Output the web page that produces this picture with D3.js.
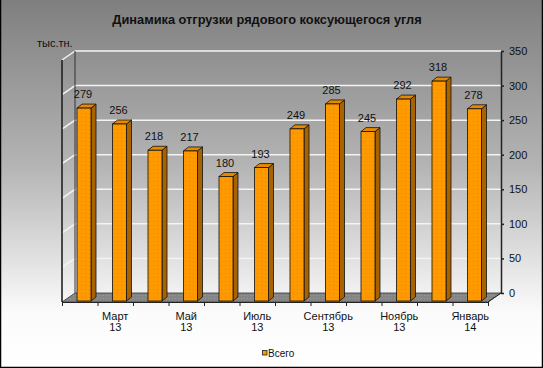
<!DOCTYPE html>
<html><head><meta charset="utf-8">
<script src="https://cdn.jsdelivr.net/npm/d3@7"></script>
<style>
html,body{margin:0;padding:0;background:#fff;}
svg{display:block;font-family:"Liberation Sans",Arial,sans-serif;}
</style></head>
<body>
<svg id="c" width="543" height="368"></svg>
<script>
const months = ["Февраль","Март","Апрель","Май","Июнь","Июль","Август","Сентябрь","Октябрь","Ноябрь","Декабрь","Январь"];
const years  = ["13","13","13","13","13","13","13","13","13","13","13","14"];
const values = [279,256,218,217,180,193,249,285,245,292,318,278];
const yTicks = [0,50,100,150,200,250,300,350];
const labelEvery = [false,true,false,true,false,true,false,true,false,true,false,true];
const seriesName = "Всего";
const titleText = "Динамика отгрузки рядового коксующегося угля";
const unitText = "тыс.тн.";

const svg = d3.select("#c");
const defs = svg.append("defs");
const g = defs.append("linearGradient").attr("id","bg").attr("x1",0).attr("y1",0).attr("x2",0).attr("y2",1);
g.append("stop").attr("offset",0).attr("stop-color","#7f7f7f");
g.append("stop").attr("offset",0.45).attr("stop-color","#b4b4b4");
g.append("stop").attr("offset",0.85).attr("stop-color","#fbfbfb");
g.append("stop").attr("offset",1).attr("stop-color","#ffffff");

// dotted patterns
const pf = defs.append("pattern").attr("id","pf").attr("width",4).attr("height",4).attr("patternUnits","userSpaceOnUse");
pf.append("rect").attr("width",4).attr("height",4).attr("fill","#ff9900");
pf.append("rect").attr("x",1).attr("y",1).attr("width",1).attr("height",1).attr("fill","#e07800").attr("opacity",0.6);
const pfl = defs.append("pattern").attr("id","pfl").attr("width",3).attr("height",3).attr("patternUnits","userSpaceOnUse");
pfl.append("rect").attr("width",3).attr("height",3).attr("fill","#858585");
pfl.append("rect").attr("x",1).attr("y",1).attr("width",1).attr("height",1).attr("fill","#9a9a9a");

svg.append("rect").attr("x",0).attr("y",0).attr("width",543).attr("height",368).attr("fill","url(#bg)");

// geometry
const x0 = 62, x1 = 488, dX = 13, dY = -9;
const yFront = d3.scaleLinear().domain([0,350]).range([302,60]);
const yBack = d3.scaleLinear().domain([0,350]).range([293,51]);
const yBar = d3.scaleLinear().domain([0,350]).range([301,59]);
const xBand = d3.scaleBand().domain(d3.range(values.length)).range([x0,x1]).paddingInner(0).paddingOuter(0);
const xLin = d3.scaleLinear().domain([0,values.length]).range([x0,x1]);

// floor
svg.append("polygon")
  .attr("points",[[x0,yFront(0)],[x1,yFront(0)],[x1+dX,yBack(0)],[x0+dX,yBack(0)]].map(p=>p.join(",")).join(" "))
  .attr("fill","url(#pfl)").attr("stroke","#333").attr("stroke-width",0.8);

// gridlines (back wall + left wall)
const grid = svg.append("g");
yTicks.forEach(v=>{
  if (v===0) return;
  grid.append("line").attr("x1",x0+dX).attr("x2",x1+dX).attr("y1",yBack(v)).attr("y2",yBack(v))
    .attr("stroke","#f4f4f4").attr("stroke-width",1.5);
  grid.append("line").attr("x1",x0).attr("x2",x0+dX).attr("y1",yFront(v)).attr("y2",yBack(v))
    .attr("stroke","#f4f4f4").attr("stroke-width",1.5);
});
// wall edges
svg.append("line").attr("x1",x0+dX).attr("x2",x0+dX).attr("y1",yBack(350)).attr("y2",yBack(0)).attr("stroke","#333").attr("stroke-width",1);
svg.append("line").attr("x1",x0).attr("x2",x0).attr("y1",yFront(350)).attr("y2",yFront(0)).attr("stroke","#222").attr("stroke-width",1.6);

// bottom axis
const ax = svg.append("g").attr("transform",`translate(0,${yFront(0)})`)
  .call(d3.axisBottom(xLin).tickValues(d3.range(values.length+1)).tickFormat("").tickSize(4).tickSizeOuter(0));
ax.select(".domain").attr("stroke","#222");
ax.selectAll(".tick line").attr("stroke","#222");

// right axis
const ay = svg.append("g").attr("transform",`translate(${x1+dX},0)`)
  .call(d3.axisRight(yBack).tickValues(yTicks).tickSize(3).tickSizeOuter(0).tickPadding(5));
ay.select(".domain").attr("stroke","#222").attr("stroke-width",1.5);
ay.selectAll(".tick line").attr("stroke","#222").attr("stroke-width",1.5);
ay.selectAll("text").attr("font-size",11).attr("fill","#111").attr("font-family","Liberation Sans, Arial, sans-serif");
// floor right edge
svg.append("line").attr("x1",x1).attr("y1",yFront(0)).attr("x2",x1+dX).attr("y2",yBack(0)).attr("stroke","#222");

// bars
const bw = 14, bdx = 5, bdy = -4, boff = 15;
const bars = svg.append("g");
values.forEach((v,i)=>{
  const bx = xBand(i)+boff, yt = yBar(v), yb = yBar(0);
  const gb = bars.append("g");
  gb.append("polygon").attr("points",[[bx+bw,yt],[bx+bw+bdx,yt+bdy],[bx+bw+bdx,yb+bdy],[bx+bw,yb]].map(p=>p.join(",")).join(" "))
    .attr("fill","#a86200").attr("stroke","#111").attr("stroke-width",0.8);
  gb.append("polygon").attr("points",[[bx,yt],[bx+bdx,yt+bdy],[bx+bw+bdx,yt+bdy],[bx+bw,yt]].map(p=>p.join(",")).join(" "))
    .attr("fill","#e58a00").attr("stroke","#111").attr("stroke-width",0.8);
  gb.append("rect").attr("x",bx).attr("y",yt).attr("width",bw).attr("height",yb-yt)
    .attr("fill","url(#pf)").attr("stroke","#111").attr("stroke-width",0.8);
  svg.append("text").attr("x",bx+bw/2-1).attr("y",yt-10).attr("text-anchor","middle")
    .attr("font-size",11).attr("fill","#111").text(v);
});

// category labels
values.forEach((v,i)=>{
  if(!labelEvery[i]) return;
  const cx = xBand(i)+xBand.bandwidth()/2;
  const t = svg.append("text").attr("text-anchor","middle").attr("font-size",11).attr("fill","#111");
  t.append("tspan").attr("x",cx).attr("y",320).text(months[i]);
  t.append("tspan").attr("x",cx).attr("y",331).text(years[i]);
});

// title
svg.append("text").attr("x",267).attr("y",24).attr("text-anchor","middle")
  .attr("font-size",12.8).attr("font-weight","bold").attr("fill","#111").text(titleText);
svg.append("text").attr("x",37).attr("y",47).attr("font-size",11).attr("fill","#111").text(unitText);

// legend
svg.append("rect").attr("x",262.5).attr("y",350.5).attr("width",4.5).attr("height",4.5)
  .attr("fill","#ff9900").attr("stroke","#222").attr("stroke-width",0.8);
svg.append("text").attr("x",268).attr("y",356.5).attr("font-size",10).attr("fill","#111").text(seriesName);

// border
svg.append("path").attr("d","M0.5,0 V367.5 H542.5 V0").attr("fill","none").attr("stroke","#000").attr("stroke-width",1.5);
</script>
</body></html>
